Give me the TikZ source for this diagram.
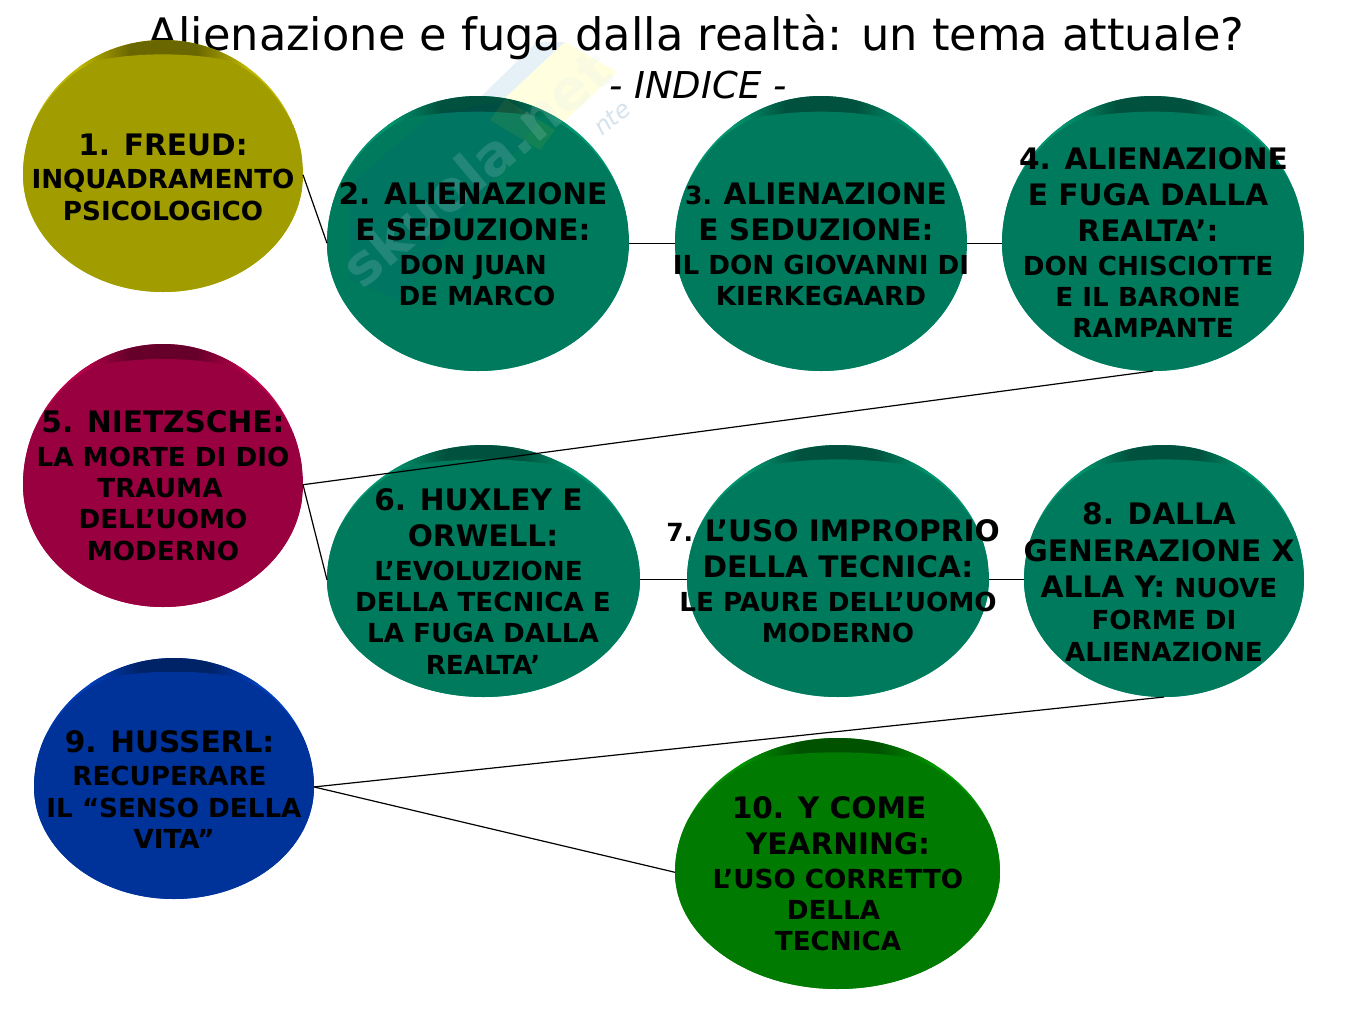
\documentclass[tikz,border=0pt]{standalone}
\usepackage{fontspec}
\setmainfont{DejaVu Sans}
\definecolor{olF}{HTML}{A19C00}\definecolor{olS}{HTML}{BDB700}\definecolor{olD}{HTML}{6B6700}
\definecolor{teF}{HTML}{007A5C}\definecolor{teS}{HTML}{00966F}\definecolor{teD}{HTML}{00513D}
\definecolor{crF}{HTML}{99003F}\definecolor{crS}{HTML}{BC004D}\definecolor{crD}{HTML}{66002A}
\definecolor{blF}{HTML}{003399}\definecolor{blS}{HTML}{0040BC}\definecolor{blD}{HTML}{002266}
\definecolor{grF}{HTML}{007A00}\definecolor{grS}{HTML}{009600}\definecolor{grD}{HTML}{005100}
\definecolor{wmB}{HTML}{E6F0F7}\definecolor{wmY}{HTML}{FFFFE0}\definecolor{wmT}{HTML}{D5E3EE}
\newcommand{\bgt}{\fontsize{29.6}{31.4}\selectfont\bfseries}
\newcommand{\smt}{\fontsize{26.2}{31.4}\selectfont\bfseries}
\newcommand{\tnt}{\fontsize{25}{31.4}\selectfont\bfseries}
\newcommand{\off}[1]{\rule{#1pt}{0pt}}
\newcommand{\bubble}[6]{%
 \pgfmathsetmacro{\bW}{#3-#2}\pgfmathsetmacro{\bH}{#5-#4}
 \pgfmathsetmacro{\bM}{#4+.535*\bH}\pgfmathsetmacro{\bC}{(#2+#3)/2}
 \pgfmathsetmacro{\rxk}{.552*\bW/2}\pgfmathsetmacro{\tk}{.552*(\bM-#4)}\pgfmathsetmacro{\bk}{.552*(#5-\bM)}
 \coordinate (#1-w) at (#2,\bM);\coordinate (#1-e) at (#3,\bM);
 \coordinate (#1-s) at (\bC,#5);
 \begin{scope}
 \path[clip] (#2,\bM) .. controls (#2,\bM-\tk) and (\bC-\rxk,#4) .. (\bC,#4)
   .. controls (\bC+\rxk,#4) and (#3,\bM-\tk) .. (#3,\bM)
   .. controls (#3,\bM+\bk) and (\bC+\rxk,#5) .. (\bC,#5)
   .. controls (\bC-\rxk,#5) and (#2,\bM+\bk) .. (#2,\bM) -- cycle;
 \fill[#6S] (#2,#4) rectangle (#3,#5);
 \shade[left color=#6S,right color=#6D] (#2+.2*\bW,#4) rectangle (#2+.38*\bW,#4+.12*\bH);
 \shade[left color=#6D,right color=#6S] (#3-.38*\bW,#4) rectangle (#3-.2*\bW,#4+.12*\bH);
 \fill[#6D] (#2+.38*\bW,#4) rectangle (#3-.38*\bW,#4+.12*\bH);
 \fill[#6F] (#2,#4+.42*\bH) .. controls (#2+.07*\bW,#4+.23*\bH) and (#2+.17*\bW,#4+.115*\bH) .. (#2+.28*\bW,#4+.078*\bH)
   .. controls (#2+.42*\bW,#4+.05*\bH) and (#3-.42*\bW,#4+.05*\bH) .. (#3-.28*\bW,#4+.078*\bH)
   .. controls (#3-.17*\bW,#4+.115*\bH) and (#3-.07*\bW,#4+.23*\bH) .. (#3,#4+.42*\bH)
   -- (#3,#5) -- (#2,#5) -- cycle;
 \end{scope}}
\tikzset{
 label text/.style={align=center,inner sep=0pt,text=black,font=\smt},
 link/.style={draw=black,line width=1.2pt},
 wm text/.style={inner sep=0pt,font=\fontsize{56}{60}\selectfont\bfseries,rotate=40}
}
\begin{document}
\begin{tikzpicture}[x=1pt,y=-1pt]
\useasboundingbox (0,0) rectangle (1350,1013);
\fill[white] (0,0) rectangle (1350,1013);
% watermark background
\fill[wmB] (452,125) -- (537,42) -- (565,42) -- (505,98) -- (470,150) -- cycle;
\fill[wmY] (505,98) -- (565,42) -- (617,72) -- (555,130) -- cycle;
\node[inner sep=0pt] (title) at (696,37) {\fontsize{44.7}{50}\selectfont Alienazione e fuga dalla realtà: un tema attuale?};
\node[inner sep=0pt] (sub) at (698,85) {\fontsize{37}{40}\selectfont\itshape - INDICE -};
% bubbles
\bubble{b1}{23}{303}{40}{292}{ol}
\bubble{b2}{327}{629}{96}{371}{te}
\bubble{b3}{675}{967}{96}{371}{te}
\bubble{b4}{1002}{1304}{96}{371}{te}
\bubble{b5}{23}{303}{344}{607}{cr}
\bubble{b6}{327}{640}{445}{697}{te}
\bubble{b7}{687}{989}{445}{697}{te}
\bubble{b8}{1024}{1304}{445}{697}{te}
\bubble{b9}{34}{314}{658}{899}{bl}
\bubble{b10}{675}{1000}{738}{989}{gr}
% watermark over bubble 2
\fill[blue,opacity=.04] (350,280) -- (350,185) -- (430,115) -- (505,100) -- (540,120) -- (470,210) -- (400,300) -- cycle;
\fill[yellow,opacity=.07] (505,99) -- (555,130) -- (540,150) -- (490,120) -- cycle;
\node[wm text,text=wmT,opacity=.16] (wm) at (476,168) {skuola.net};
\node[inner sep=0pt,font=\fontsize{24}{26}\selectfont\itshape,rotate=40,text=wmT] (wm2) at (612,118) {nte};
% connectors
\draw[link] (b1-e) -- (b2-w);
\draw[link] (b2-e) -- (b3-w);
\draw[link] (b3-e) -- (b4-w);
\draw[link] (b5-e) -- (b4-s);
\draw[link] (b5-e) -- (b6-w);
\draw[link] (b6-e) -- (b7-w);
\draw[link] (b7-e) -- (b8-w);
\draw[link] (b9-e) -- (b8-s);
\draw[link] (b9-e) -- (b10-w);
% labels
\node[label text] (t1) at (163,177) {{\bgt 1. FREUD:}\\[2pt]INQUADRAMENTO\\PSICOLOGICO};
\node[label text] (t2) at (473,244.5) {{\bgt 2. ALIENAZIONE}\\[4.5pt]{\bgt E SEDUZIONE:}\\[2pt]DON JUAN\\\off{8}DE MARCO};
\node[label text] (t3) at (821,244.5) {{\tnt 3. }{\bgt ALIENAZIONE}\off{10}\\[4.5pt]{\bgt E SEDUZIONE:}\off{10}\\[2pt]IL DON GIOVANNI DI\\KIERKEGAARD};
\node[label text] (t4) at (1148,243) {\off{11}{\bgt 4. ALIENAZIONE}\\[4.5pt]{\bgt E FUGA DALLA}\\[4.5pt]{\bgt REALTA’:}\\[2pt]DON CHISCIOTTE\\E IL BARONE\\\off{10}RAMPANTE};
\node[label text] (t5) at (163,485.5) {{\bgt 5. NIETZSCHE:}\\[2.5pt]LA MORTE DI DIO\\TRAUMA\off{6}\\DELL’UOMO\\MODERNO};
\node[label text] (t6) at (483,581.5) {{\bgt 6. HUXLEY E}\off{9}\\[4.5pt]{\bgt ORWELL:}\\[2pt]L’EVOLUZIONE\off{9}\\DELLA TECNICA E\\LA FUGA DALLA\\REALTA’};
\node[label text] (t7) at (838,581.5) {{\tnt 7. }{\bgt L’USO IMPROPRIO}\off{10}\\[4.5pt]{\bgt DELLA TECNICA:}\\[2pt]LE PAURE DELL’UOMO\\MODERNO};
\node[label text] (t8) at (1164,582) {{\bgt 8. DALLA}\off{10}\\[5.5pt]{\bgt GENERAZIONE X}\off{10}\\[4.5pt]{\bgt ALLA Y:} NUOVE\off{10}\\[1pt]FORME DI\\ALIENAZIONE};
\node[label text] (t9) at (174,789.5) {{\bgt 9. HUSSERL:}\off{9}\\[2pt]RECUPERARE\off{9}\\IL “SENSO DELLA\\VITA”};
\node[label text] (t10) at (838,874) {{\bgt 10. Y COME}\off{18}\\[4.5pt]{\bgt YEARNING:}\\[2pt]L’USO CORRETTO\\DELLA\off{9}\\TECNICA};
\end{tikzpicture}
\end{document}
